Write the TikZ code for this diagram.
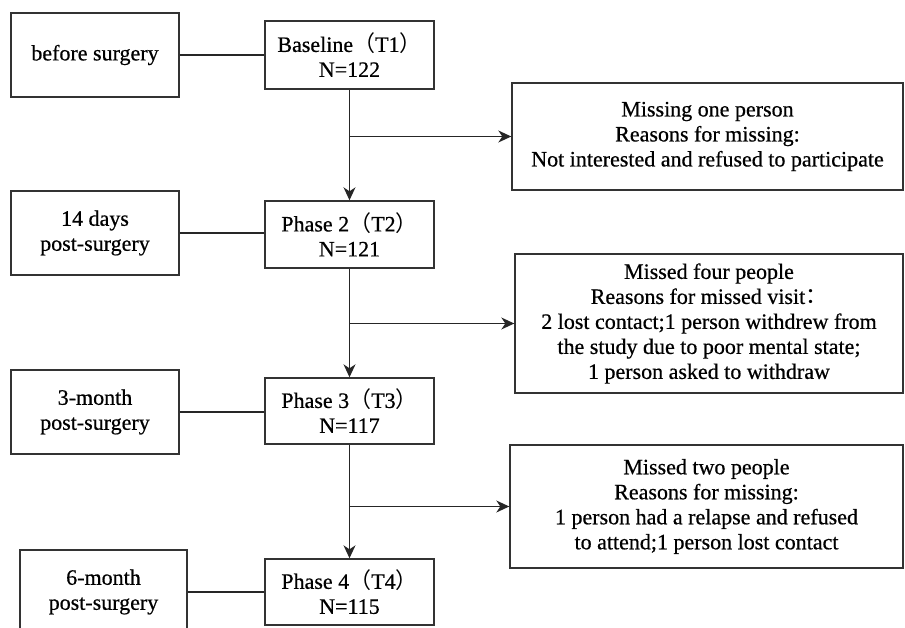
\documentclass[tikz,border=0pt]{standalone}
\usepackage{fontspec}
\setmainfont{Liberation Serif}[FakeBold=0.6]
\newfontfamily\cjk{Noto Sans CJK SC}
\usetikzlibrary{arrows.meta}
\begin{document}
\begin{tikzpicture}[x=1pt,y=1pt,
  every node/.style={font=\fontsize{22}{25}\selectfont},
  box/.style={draw=black!80, line width=1.4pt, align=center, inner sep=0pt},
  line/.style={draw=black!85, line width=1.4pt},
  arr/.style={line, -{Stealth[length=13pt,width=12pt,inset=4pt]}}]
\useasboundingbox (0,0) rectangle (905,-628);
% left column
\node[box, minimum width=168pt, minimum height=84pt] (pre) at (95,-55) {before surgery};
\node[box, minimum width=168pt, minimum height=84pt] (d14) at (95,-233) {14 days\\post-surgery};
\node[box, minimum width=168pt, minimum height=84pt] (m3mo) at (95,-412) {3-month\\post-surgery};
\node[box, minimum width=167pt, minimum height=84pt] (m6mo) at (103.5,-592) {6-month\\post-surgery};
% middle column
\node[box, minimum width=169pt, minimum height=68pt] (t1) at (349.5,-55) {Baseline{\cjk （}T1{\cjk ）}\\N=122};
\node[box, minimum width=169pt, minimum height=67pt] (t2) at (349.5,-234.5) {Phase 2{\cjk （}T2{\cjk ）}\\N=121};
\node[box, minimum width=169pt, minimum height=66pt] (t3) at (349.5,-411) {Phase 3{\cjk （}T3{\cjk ）}\\N=117};
\node[box, minimum width=169pt, minimum height=66pt] (t4) at (349.5,-592) {Phase 4{\cjk （}T4{\cjk ）}\\N=115};
% right column
\node[box, minimum width=391pt, minimum height=107pt] (m1) at (707.5,-136.5) {Missing one person\\Reasons for missing:\\Not interested and refused to participate};
\node[box, minimum width=388pt, minimum height=139pt] (m2) at (709,-323.5) {Missed four people\\Reasons for missed visit{\cjk ：}\\2 lost contact;1 person withdrew from\\the study due to poor mental state;\\1 person asked to withdraw};
\node[box, minimum width=393pt, minimum height=123pt] (m3) at (706.5,-506.5) {Missed two people\\Reasons for missing:\\1 person had a relapse and refused\\to attend;1 person lost contact};
% horizontal links
\draw[line] (pre.east) -- (pre.east -| t1.west);
\draw[line] (d14.east) -- (d14.east -| t2.west);
\draw[line] (m3mo.east) -- (m3mo.east -| t3.west);
\draw[line] (m6mo.east) -- (m6mo.east -| t4.west);
% vertical flow
\draw[arr] (t1.south) -- (t2.north);
\draw[arr] (t2.south) -- (t3.north);
\draw[arr] (t3.south) -- (t4.north);
% branches
\coordinate (b1) at (t1.south |- m1.west);
\coordinate (b2) at (t2.south |- m2.west);
\coordinate (b3) at (t3.south |- m3.west);
\draw[arr] (b1) -- (m1.west);
\draw[arr] (b2) -- (m2.west);
\draw[arr] (b3) -- (m3.west);
\end{tikzpicture}
\end{document}
